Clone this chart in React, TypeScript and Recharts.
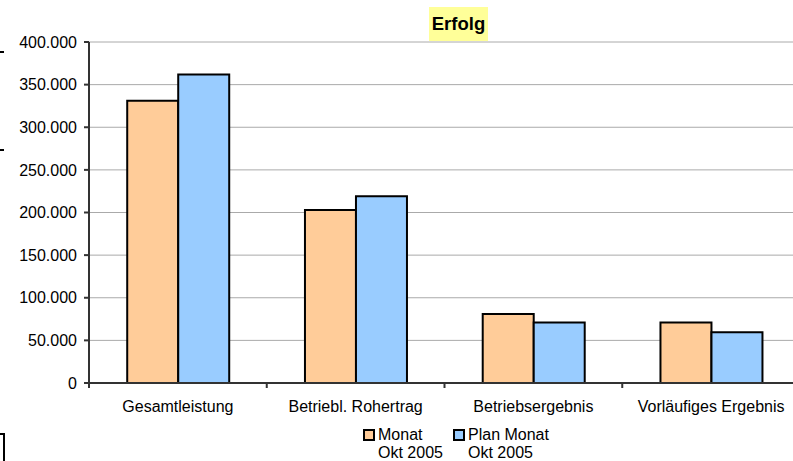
import { BarChart, Bar, XAxis, YAxis, CartesianGrid, Legend } from "recharts";

// Werte (in Euro)
const categories = ["Gesamtleistung", "Betriebl. Rohertrag", "Betriebsergebnis", "Vorläufiges Ergebnis"];
const monat = [331000, 203000, 81000, 71000];
const planMonat = [362000, 219000, 71000, 59500];
const seriesNames = ["Monat\nOkt 2005", "Plan Monat\nOkt 2005"];
const yTicks = [0, 50000, 100000, 150000, 200000, 250000, 300000, 350000, 400000];

const COLORS = ["#FFCC99", "#99CCFF"];
const FONT = "'Liberation Sans', Arial, sans-serif";
const FS = 16;

const W = 800;
const H = 461;
const TOP = 42;
const LEFT = 89;
const BOTTOM = 383;

const data = categories.map((name, i) => ({ name, monat: monat[i], plan: planMonat[i] }));

// deutsche Tausenderpunkte
const fmt = (v: number) => String(v).replace(/\B(?=(\d{3})+(?!\d))/g, ".");

function CategoryTick(props: any) {
  const { x, payload, index } = props;
  const half = payload && payload.offset ? payload.offset : (W - LEFT) / categories.length / 2;
  const last = index === categories.length - 1;
  return (
    <g>
      <line x1={x - half} y1={BOTTOM} x2={x - half} y2={BOTTOM + 5} stroke="#333" strokeWidth={2} />
      {last && <line x1={x + half} y1={BOTTOM} x2={x + half} y2={BOTTOM + 5} stroke="#333" strokeWidth={2} />}
      <text x={x} y={411.5} textAnchor="middle" fontSize={FS} fill="#000" fontFamily={FONT}>
        {payload.value}
      </text>
    </g>
  );
}

function LegendBox(props: any) {
  const items = props.payload || [];
  return (
    <div style={{ display: "flex", fontFamily: FONT, fontSize: FS, color: "#000", lineHeight: "18px" }}>
      {items.map((it: any, i: number) => (
        <div key={i} style={{ display: "flex", width: 90 }}>
          <span
            style={{
              width: 8,
              height: 8,
              marginTop: 3,
              marginRight: 3,
              background: COLORS[i],
              border: "2px solid #000",
              flexShrink: 0,
            }}
          />
          <div>
            {String(it.value)
              .split("\n")
              .map((line, k) => (
                <div key={k} style={{ whiteSpace: "nowrap" }}>{line}</div>
              ))}
          </div>
        </div>
      ))}
    </div>
  );
}

export default function App() {
  return (
    <div style={{ position: "absolute", left: 0, top: 0, width: 793, height: 461, overflow: "hidden", background: "#fff" }}>
      {/* Reste am linken Rand */}
      <div style={{ position: "absolute", left: 0, top: 51, width: 4, height: 2, background: "#000" }} />
      <div style={{ position: "absolute", left: 0, top: 149, width: 4, height: 2, background: "#000" }} />
      <div style={{ position: "absolute", left: 0, top: 433, width: 5, height: 2, background: "#000" }} />
      <div style={{ position: "absolute", left: 3, top: 433, width: 2, height: 28, background: "#000" }} />

      <div
        style={{
          position: "absolute",
          left: 429,
          top: 7,
          width: 59,
          height: 34,
          background: "#FFFF99",
          fontFamily: FONT,
          fontWeight: "bold",
          fontSize: 18.5,
          lineHeight: "34px",
          textAlign: "center",
          zIndex: 2,
        }}
      >
        Erfolg
      </div>

      <BarChart
        width={W}
        height={H}
        data={data}
        margin={{ top: TOP, right: 0, left: 0, bottom: 48 }}
        barCategoryGap="21.5%"
        barGap={0}
      >
        <CartesianGrid vertical={false} stroke="#aaa" strokeWidth={1} />
        <XAxis
          dataKey="name"
          height={30}
          axisLine={{ stroke: "#333", strokeWidth: 2 }}
          tickLine={false}
          tick={<CategoryTick />}
          interval={0}
        />
        <YAxis
          width={LEFT}
          domain={[0, 400000]}
          ticks={yTicks}
          tickFormatter={fmt}
          axisLine={{ stroke: "#333", strokeWidth: 2 }}
          tickLine={{ stroke: "#333", strokeWidth: 2 }}
          tickSize={5}
          tickMargin={7}
          tick={{ fill: "#000", fontSize: FS, fontFamily: FONT }}
        />
        <Legend
          layout="horizontal"
          verticalAlign="middle"
          align="center"
          wrapperStyle={{ left: 363, top: 426, width: 200, height: 36 }}
          content={<LegendBox />}
        />
        <Bar dataKey="monat" name={seriesNames[0]} fill={COLORS[0]} stroke="#000" strokeWidth={2} isAnimationActive={false} />
        <Bar dataKey="plan" name={seriesNames[1]} fill={COLORS[1]} stroke="#000" strokeWidth={2} isAnimationActive={false} />
      </BarChart>
    </div>
  );
}
